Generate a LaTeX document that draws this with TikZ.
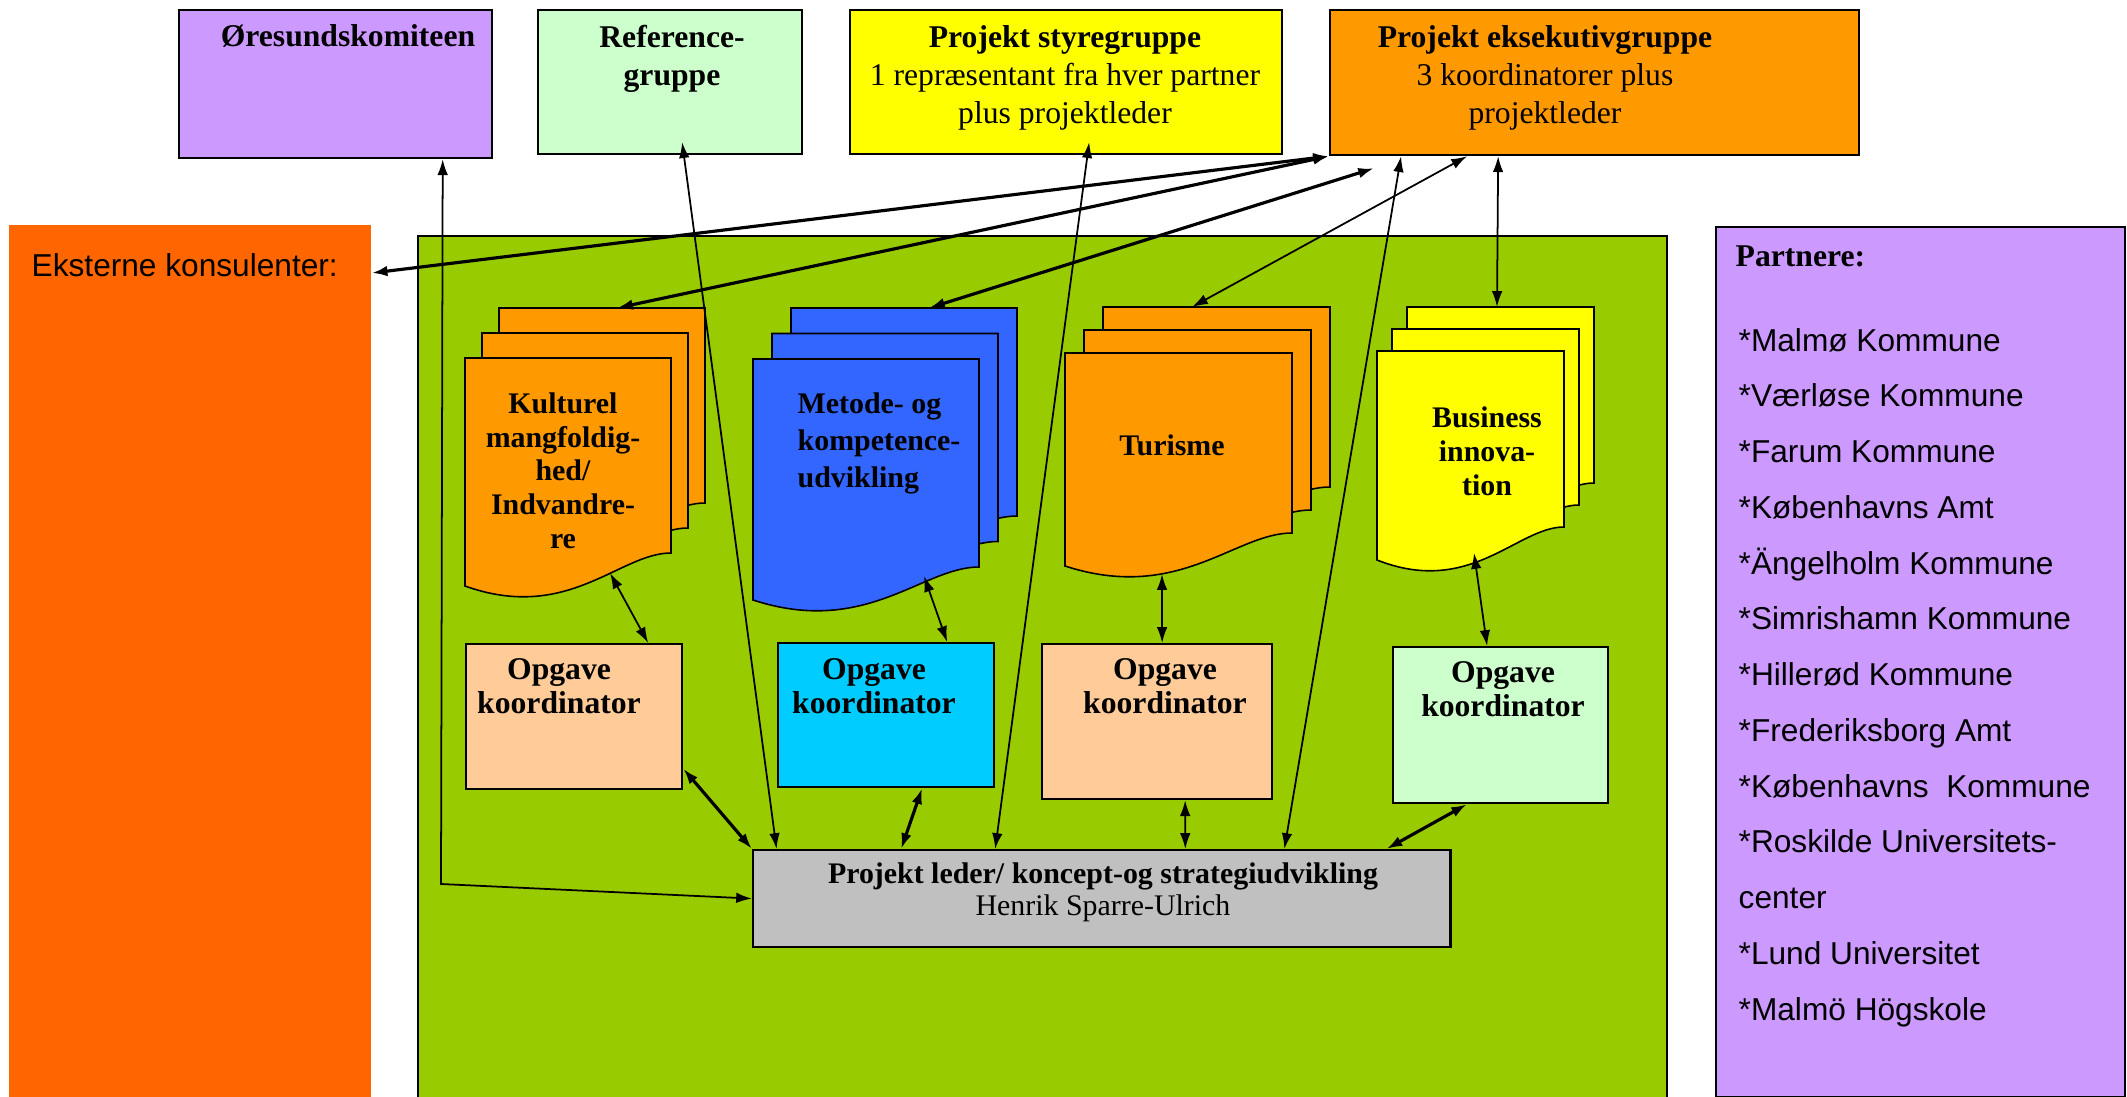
\documentclass[tikz,border=0pt]{standalone}
\usepackage{fontspec}
\setmainfont{Liberation Serif}
\setsansfont{Liberation Sans}
\usetikzlibrary{arrows.meta}

\definecolor{lilla}{HTML}{CC99FF}
\definecolor{lysgroen}{HTML}{CCFFCC}
\definecolor{gul}{HTML}{FFFF00}
\definecolor{kasse}{HTML}{FF9900}
\definecolor{roedorange}{HTML}{FF6600}
\definecolor{groen}{HTML}{99CC00}
\definecolor{blaa}{HTML}{3366FF}
\definecolor{hud}{HTML}{FFCC99}
\definecolor{himmel}{HTML}{00CCFF}
\definecolor{graa}{HTML}{C0C0C0}

% one sheet of a document stack: fill, x, y, width, height
\newcommand{\docsheet}[5]{\draw[fill=#1, line width=0.45pt] (#2,#3) -- ++(#4,0) -- ++(0,#5) .. controls +(-0.25*#4,0) and +(0.5*#4,37) .. (#2,#3+#5+33) -- cycle;}
% three sheets: fill, x, y (back sheet), width, height, dx, dy
\newcommand{\docstack}[7]{\foreach \k in {0,1,2} {\docsheet{#1}{#2-\k*#6}{#3+\k*#7}{#4}{#5}}}

\begin{document}
\begin{tikzpicture}[x=0.01cm, y=-0.01cm,
  box/.style={draw, anchor=north west, inner sep=0pt, line width=0.6pt},
  boxtxt/.style={anchor=north, inner sep=0pt, align=center, font=\fontsize{9}{10.8}\selectfont},
  doctxt/.style={anchor=north, inner sep=0pt, align=center, font=\bfseries\fontsize{8.5}{9.6}\selectfont},
  opgtxt/.style={anchor=north, inner sep=0pt, align=center, font=\bfseries\fontsize{9}{9.5}\selectfont},
  listtxt/.style={anchor=base west, inner sep=0pt, font=\sffamily\fontsize{9}{11}\selectfont},
  link/.style={{Latex[length=4.5pt,width=3pt]}-{Latex[length=4.5pt,width=3pt]}, line width=0.5pt},
  fatlink/.style={link, line width=0.9pt}]
\useasboundingbox (0,0) rectangle (2127,1097);

% top row
\node[box, fill=lilla, minimum width=3.13cm, minimum height=1.48cm] (oresund) at (178,9) {};
\node[box, fill=lysgroen, minimum width=2.64cm, minimum height=1.44cm] (ref) at (537,9) {};
\node[box, fill=gul, minimum width=4.32cm, minimum height=1.44cm] (styr) at (849,9) {};
\node[box, fill=kasse, minimum width=5.29cm, minimum height=1.45cm] (eksek) at (1329,9) {};
\node[boxtxt, font=\bfseries\fontsize{9}{10.8}\selectfont] (oresund-txt) at (348,24) {Øresundskomiteen};
\node[boxtxt] (ref-txt) at (672,25) {\textbf{Reference-}\\\textbf{gruppe}};
\node[boxtxt] (styr-txt) at (1065,25) {\textbf{Projekt styregruppe}\\1 repræsentant fra hver partner\\plus projektleder};
\node[boxtxt] (eksek-txt) at (1545,25) {\textbf{Projekt eksekutivgruppe}\\3 koordinatorer plus\\projektleder};

% sides
\node[anchor=north west, inner sep=0pt, fill=roedorange, minimum width=3.62cm, minimum height=8.73cm] (ekstern) at (8,224) {};
\node[listtxt] (ekstern-txt) at (31,276) {Eksterne konsulenter:};
\node[box, fill=groen, minimum width=12.48cm, minimum height=8.61cm] (projekt) at (417,235) {};
\node[box, fill=lilla, line width=0.5pt, minimum width=4.09cm, minimum height=8.69cm] (partnere) at (1715,226) {};
\node[anchor=base west, inner sep=0pt, font=\bfseries\fontsize{9}{11}\selectfont] (partnere-txt) at (1735,266) {Partnere:};
\foreach \pname [count=\i] in {*Malmø Kommune, *Værløse Kommune, *Farum Kommune, *Københavns Amt, *Ängelholm Kommune, *Simrishamn Kommune, *Hillerød Kommune, *Frederiksborg Amt, *Københavns\ \ Kommune, *Roskilde Universitets-, center, *Lund Universitet, *Malmö Högskole}
  \node[listtxt] (partner\i) at (1738,{351+55.75*(\i-1)}) {\pname};

% document stacks
\docstack{kasse}{499}{308}{206}{195}{17}{25}
\docstack{blaa}{791}{308}{226}{208}{19}{25.5}
\docstack{kasse}{1103}{307}{227}{180}{19}{23}
\docstack{gul}{1407}{307}{187}{176}{15}{22}
\node[doctxt] (kultur) at (563,392) {Kulturel\\mangfoldig-\\hed/\\Indvandre-\\re};
\node[doctxt, anchor=north west, align=left, font=\bfseries\fontsize{8.5}{10.6}\selectfont] (metode) at (797,392) {Metode- og\\kompetence-\\udvikling};
\node[doctxt] (turisme) at (1172,434) {Turisme};
\node[doctxt, font=\bfseries\fontsize{8.5}{9.7}\selectfont] (business) at (1487,406) {Business\\innova-\\tion};
\coordinate (kultur-top) at (617,308);
\coordinate (kultur-bund) at (610,573);
\coordinate (metode-top) at (929,308);
\coordinate (metode-bund) at (924,576);
\coordinate (turisme-top) at (1192,307);
\coordinate (turisme-bund) at (1162,574);
\coordinate (business-top) at (1497,307);
\coordinate (business-bund) at (1474,553);
\coordinate (oresund-knaek) at (441,884);

% coordinators and leader
\node[box, fill=hud, minimum width=2.16cm, minimum height=1.45cm] (opg1) at (465,643) {};
\node[box, fill=himmel, minimum width=2.16cm, minimum height=1.44cm] (opg2) at (777,642) {};
\node[box, fill=hud, minimum width=2.30cm, minimum height=1.55cm] (opg3) at (1041,643) {};
\node[box, fill=lysgroen, minimum width=2.15cm, minimum height=1.56cm] (opg4) at (1392,646) {};
\foreach \n/\x/\y in {1/559/658, 2/874/658, 3/1165/658, 4/1503/661}
  \node[opgtxt] (opg\n-txt) at (\x,\y) {Opgave\\koordinator};
\node[box, fill=graa, minimum width=6.97cm, minimum height=0.97cm] (leder) at (752,849) {};
\node[boxtxt, font=\fontsize{8.5}{9.1}\selectfont] (leder-txt) at (1103,862) {\textbf{Projekt leder/ koncept-og strategiudvikling}\\Henrik Sparre-Ulrich};

% connectors
\draw[link] ([xshift=1.07cm]oresund.south) -- (oresund-knaek) -- (leder.west);
\draw[link] ([xshift=0.12cm,yshift=0.13cm]ref.south) -- ([xshift=-3.25cm]leder.north);
\draw[link] ([xshift=0.23cm,yshift=0.13cm]styr.south) -- ([xshift=-1.065cm]leder.north);
\draw[link] ([xshift=-1.935cm]eksek.south) -- ([xshift=1.825cm]leder.north);
\draw[fatlink] (eksek.south west) -- ([yshift=-0.49cm]ekstern.north east);
\draw[fatlink] (eksek.south west) -- (kultur-top);
\draw[fatlink] ([xshift=-2.205cm,yshift=-0.12cm]eksek.south) -- (metode-top);
\draw[link] ([xshift=-1.275cm]eksek.south) -- (turisme-top);
\draw[link] ([xshift=-0.965cm]eksek.south) -- (business-top);
\draw[link] (kultur-bund) -- ([xshift=0.74cm]opg1.north);
\draw[link] (metode-bund) -- ([xshift=0.61cm]opg2.north);
\draw[link] (turisme-bund) -- ([xshift=0.05cm]opg3.north);
\draw[link] (business-bund) -- ([xshift=-0.135cm]opg4.north);
\draw[fatlink] ([yshift=-0.52cm]opg1.east) -- (leder.north west);
\draw[fatlink] ([xshift=0.36cm]opg2.south) -- ([xshift=-2.005cm]leder.north);
\draw[link] ([xshift=0.28cm]opg3.south) -- ([xshift=0.835cm]leder.north);
\draw[fatlink] ([xshift=-0.335cm]opg4.south) -- ([xshift=2.845cm]leder.north);
\end{tikzpicture}
\end{document}
